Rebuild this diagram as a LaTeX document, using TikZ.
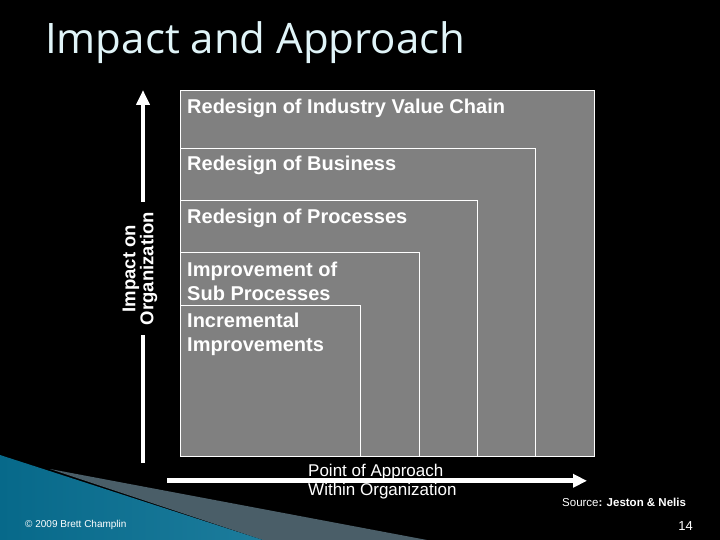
\documentclass[tikz,border=0pt]{standalone}
\usepackage{fontspec}
\setmainfont{Liberation Sans}
\newfontfamily\titlefont{Open Sans}
\usetikzlibrary{arrows.meta}

\definecolor{boxgray}{HTML}{808080}
\definecolor{titlecol}{HTML}{E0F4F8}
\definecolor{swooshdark}{HTML}{07698A}
\definecolor{swooshlight}{HTML}{5CC0E0}
\definecolor{swooshend}{HTML}{1C7C9C}
\definecolor{stripegray}{HTML}{4A5E68}

\begin{document}
\begin{tikzpicture}[x=1pt,y=-1pt]
\tikzstyle{every node}+=[inner sep=0pt]
\tikzstyle{level}=[draw=white,line width=1pt,fill=boxgray]
\tikzstyle{lbl}=[anchor=base west,align=left,text=white,font=\fontsize{20}{24}\selectfont\bfseries]
\tikzstyle{axis}=[white,line width=4.5pt,-{Triangle[width=13pt,length=15pt]}]
\useasboundingbox (0,0) rectangle (720,540);
\fill [black] (0,0) rectangle (720,540);
% swoosh bottom left
\fill [stripegray] (50,469) -- (427,540) -- (263,540) -- cycle;
\shade [left color=swooshdark,middle color=swooshlight,right color=swooshend] (0,455) -- (263,540) -- (0,540) -- cycle;
% title
\node [anchor=base west,text=titlecol,font=\titlefont\fontsize{42}{48}\selectfont] (title) at (45,53.3) {Impact and Approach};
% nested levels
\draw [level] (180,90.7) rectangle (594,456);
\draw [level] (180,148.3) rectangle (535.7,456);
\draw [level] (180,200.3) rectangle (477.3,456);
\draw [level] (180,252.7) rectangle (419.3,456);
\draw [level] (180,305.7) rectangle (360.3,456);
% base of a two line label is its last line
\node [lbl] (chain) at (187,113.3) {Redesign of Industry Value Chain};
\node [lbl] (business) at (187,170.7) {Redesign of Business};
\node [lbl] (processes) at (187,223) {Redesign of Processes};
\node [lbl] (subproc) at (187,300) {Improvement of\\Sub Processes};
\node [lbl] (incremental) at (187,351.7) {Incremental\\Improvements};
% impact axis
\coordinate (vbot) at (143,463);
\coordinate (vtop) at (143,90);
\draw [axis] (vbot) -- (vtop);
\node [fill=black,rotate=90,align=center,minimum width=133pt,text=white,font=\fontsize{18.5}{18}\selectfont\bfseries] (impact) at (140,268.5) {Impact on\\Organization};
% approach axis
\node [anchor=base west,align=left,text=white,font=\fontsize{17}{19}\selectfont] (point) at (308,495.7) {Point of Approach\\Within Organization};
\coordinate (hleft) at (167,480.8);
\coordinate (hright) at (587,480.8);
\draw [axis,line width=5pt,-{Triangle[width=13pt,length=14pt]}] (hleft) -- (hright);
% footer
\node [anchor=base west,text=white,font=\fontsize{11.5}{13}\selectfont] (source) at (562,506.7) {Source\textbf{: Jeston \& Nelis}};
\node [anchor=base east,text=white,font=\fontsize{13}{15}\selectfont] (page) at (693,530) {14};
\node [anchor=base west,text=white,font=\fontsize{10}{12}\selectfont] (copy) at (25,527.3) {\textcopyright{} 2009 Brett Champlin};
\end{tikzpicture}
\end{document}
